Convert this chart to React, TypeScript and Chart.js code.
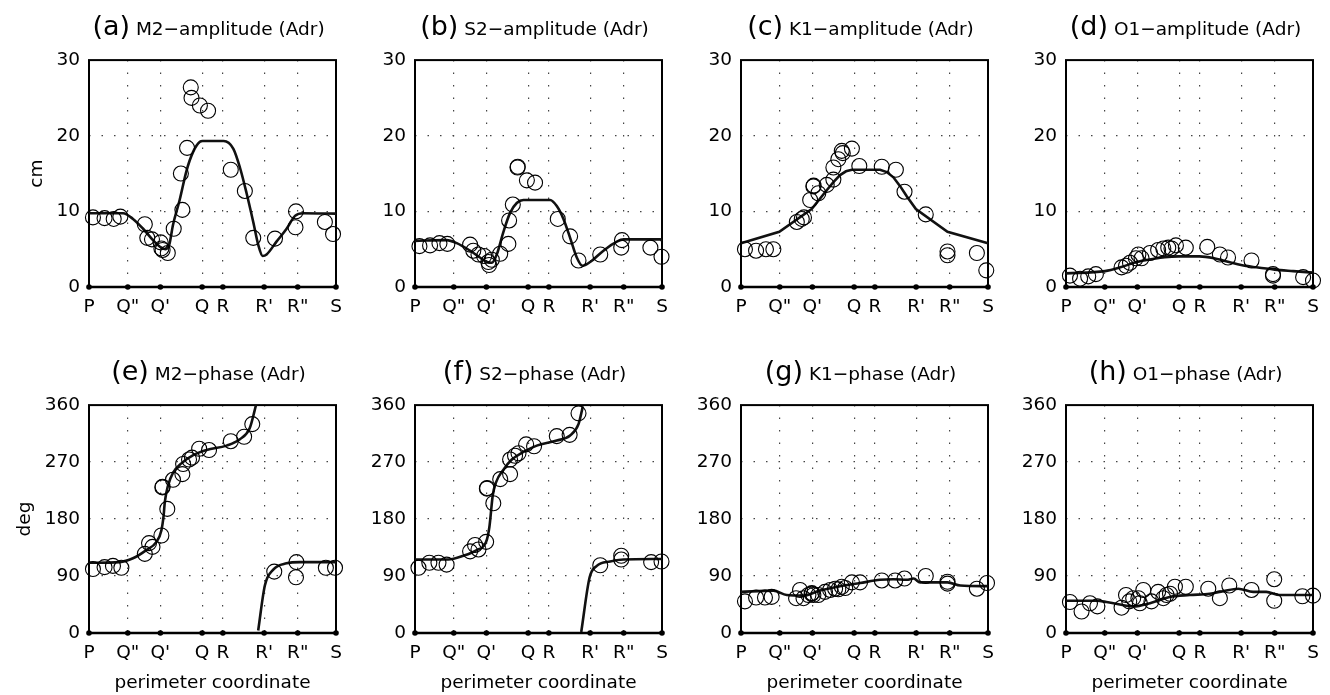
import React, { useEffect, useRef } from "react";
import { Chart, registerables } from "chart.js";
Chart.register(...registerables);

type P = [number, number];

// perimeter coordinate ticks (0..100 along the perimeter)
const X_TICKS = [0, 15.7, 28.9, 45.8, 54.2, 70.9, 84.5, 100];
const X_LABELS = ["P", 'Q"', "Q'", "Q", "R", "R'", 'R"', "S"];

// (a) M2 amplitude
const M2_AMP_OBS: P[] = [[1.6,9.2],[6.3,9.1],[10,9.0],[12.7,9.3],[22.6,8.3],[23.6,6.5],[25.5,6.3],[29.0,5.9],[29.3,5.1],[29.8,4.9],[31.9,4.5],[34.3,7.7],[37.8,10.2],[37.2,15.0],[39.7,18.4],[41.2,26.4],[41.5,25.0],[44.9,24.0],[48.2,23.3],[57.4,15.5],[63.1,12.7],[66.5,6.5],[75.3,6.4],[83.8,10.0],[83.6,7.9],[95.5,8.6],[98.8,7.0]];
const M2_AMP_FIT: P[] = [[0,9.76],[13.8,9.76],[17.8,9.0],[21.9,7.7],[25.9,6.2],[29.3,5.2],[31.0,5.0],[32.5,5.6],[34,8.2],[36.7,11.5],[39.5,15.4],[42.2,17.9],[44.9,19.2],[46,19.3],[54.5,19.3],[58.4,18.3],[61.1,15.8],[63.8,12.4],[66.5,8.6],[68.5,5.6],[70.3,4.1],[71.9,4.3],[75.9,6.0],[80,7.7],[83.4,9.4],[86.7,9.76],[100,9.7]];

// (b) S2 amplitude
const S2_AMP_OBS: P[] = [[1.8,5.4],[6.1,5.5],[9.9,5.8],[13.1,5.7],[22.3,5.6],[23.6,4.8],[25.7,4.3],[28.0,4.1],[29.7,3.3],[31.1,3.6],[30.0,2.9],[34.5,4.4],[37.8,5.7],[38.1,8.8],[39.6,10.9],[41.5,15.8],[41.6,15.9],[45.3,14.1],[48.6,13.8],[57.8,9.0],[62.8,6.7],[66.2,3.5],[75.0,4.3],[83.8,6.2],[83.5,5.2],[95.3,5.2],[99.8,4.0]];
const S2_AMP_FIT: P[] = [[0,6.1],[12.8,6.2],[16.9,5.8],[22.3,4.8],[26.3,3.9],[29.1,3.3],[31.1,3.2],[33.1,4.3],[35.8,7.3],[38.5,9.8],[41.2,11.1],[43.9,11.5],[54.7,11.5],[57.4,10.7],[60.1,9.0],[62.8,6.5],[65.5,3.9],[67.8,2.8],[70.9,3.3],[76.3,4.8],[81.7,6.0],[84.5,6.3],[99.3,6.3],[100,6.1]];

// (c) K1 amplitude
const K1_AMP_OBS: P[] = [[1.6,5.0],[6.1,4.8],[10.1,5.0],[13.1,5.0],[22.6,8.6],[24.6,9.0],[25.5,9.2],[28.0,11.5],[29.3,13.3],[29.4,13.4],[31.3,12.4],[34.7,13.5],[37.4,14.2],[37.4,15.8],[39.4,16.9],[40.8,18.0],[41.2,17.7],[44.9,18.3],[47.9,16.0],[57.0,15.9],[62.7,15.5],[66.2,12.6],[74.8,9.6],[83.6,4.7],[83.6,4.2],[95.5,4.5],[99.3,2.2]];
const K1_AMP_FIT: P[] = [[0,5.8],[15.5,7.3],[28.6,10.3],[34.7,12.8],[37.5,13.9],[40.1,14.8],[42.5,15.3],[44.9,15.5],[56.3,15.5],[59,15.2],[61.7,14.5],[64.5,13.3],[67.1,12.0],[70.8,10.3],[83.6,7.3],[100,5.8]];

// (d) O1 amplitude
const O1_AMP_OBS: P[] = [[1.6,1.5],[5.7,1.1],[9.0,1.4],[12.1,1.7],[22.5,2.6],[24.3,2.8],[25.9,3.2],[28.3,3.8],[29.3,4.3],[30.6,3.8],[34.0,4.5],[37.3,4.9],[39.4,5.1],[41.4,5.2],[42.7,5.1],[44.5,5.5],[48.5,5.2],[57.2,5.3],[62.3,4.3],[65.6,3.9],[75.1,3.5],[83.8,1.5],[83.8,1.7],[96.0,1.3],[100,0.85]];
const O1_AMP_FIT: P[] = [[0,1.8],[15.8,2.1],[22,2.6],[28.6,3.3],[35,3.7],[40,3.95],[45.6,4.05],[54,4.05],[60,3.8],[66,3.3],[70.9,2.9],[77,2.6],[84.5,2.3],[92,2.1],[100,1.9]];

// (e) M2 phase
const M2_PHA_OBS: P[] = [[1.6,101],[6.3,104],[9.7,106],[13.1,103],[22.6,125],[24.3,142],[25.7,136],[29.3,154],[31.7,196],[29.7,230],[29.8,231],[34.0,242],[37.8,251],[38.1,267],[40.5,274],[41.7,277],[44.6,291],[48.6,289],[57.4,303],[62.8,310],[66.1,330],[75.0,97],[84.0,112],[83.8,88],[95.9,103],[99.6,103]];
const M2_PHA_FIT1: P[] = [[0,111],[12.4,112],[17.8,118],[23.2,131],[27.3,144],[29.3,162],[30.2,185],[30.7,207],[32.0,233],[34.0,253],[37.4,268],[42.2,281],[47.6,289],[55.7,296],[61.1,306],[65.1,324],[67.1,352],[67.6,360]];
const M2_PHA_FIT2: P[] = [[68.5,4],[71.2,75],[74.6,100],[80,110],[85.4,112],[100,112]];

// (f) S2 phase
const S2_PHA_OBS: P[] = [[1.4,103],[5.8,111],[9.5,111],[12.8,108],[22.3,129],[24.3,139],[25.7,132],[28.8,144],[29.1,228],[29.2,229],[31.7,205],[34.5,243],[38.5,251],[38.5,274],[40.5,280],[41.9,284],[45.0,298],[48.2,295],[57.4,311],[62.6,313],[66.2,347],[75.0,107],[83.5,122],[83.5,116],[95.6,112],[99.8,113]];
const S2_PHA_FIT1: P[] = [[0,116],[13.5,116],[19.6,122],[25,131],[28.8,144],[30.1,167],[31.5,218],[32.8,238],[35.8,258],[39.2,274],[43.9,286],[49.3,296],[57.4,304],[62.8,312],[66.2,330],[67.6,352],[67.9,358]];
const S2_PHA_FIT2: P[] = [[67.3,1.5],[70.7,88],[73.6,106],[79,113],[84.4,116],[100,117]];

// (g) K1 phase
const K1_PHA_OBS: P[] = [[1.6,50],[6.1,56],[9.7,56],[12.4,57],[22.3,55],[23.9,68],[25.3,55],[27.3,60],[28.6,62],[28.7,63],[29.3,60],[31.3,60],[34.0,65],[36.1,68],[38.1,70],[39.4,69],[40.8,73],[42.2,71],[44.9,80],[48.2,80],[57.0,83],[62.4,83],[66.2,86],[74.8,90],[83.6,81],[83.6,78],[95.5,70],[99.6,79]];
const K1_PHA_FIT: P[] = [[0,65],[13.1,67],[18.5,60],[25.3,59],[32,67],[40.1,74],[48.2,79],[56.3,84],[61.7,85],[67.1,84],[69.9,86],[72.5,80],[83.6,80],[88.8,75],[100,74]];

// (h) O1 phase
const O1_PHA_OBS: P[] = [[1.6,49],[6.3,34],[9.7,47],[12.7,42],[22.5,40],[24.3,60],[25.6,50],[27.2,55],[29.3,55],[29.9,47],[31.3,68],[34.6,50],[37.3,65],[39.4,55],[40.7,60],[42.1,62],[44.1,73],[48.5,73],[57.6,70],[62.3,55],[66.1,75],[75.1,68],[84.3,85],[84.3,51],[95.7,58],[100,59]];
const O1_PHA_FIT: P[] = [[0,51],[12.4,51],[16.4,49],[21.8,45],[27.2,42],[34,47],[42,57],[50.1,60],[58.2,62],[63.6,66],[69.7,70],[75.8,65],[81.1,65],[86.5,60],[100,60]];

const AMP_MAX = 30, AMP_STEP = 10;
const PHA_MAX = 360, PHA_STEP = 90;

type PanelCfg = { tag: string; title: string; obs: P[]; fits: P[][]; phase: boolean; smooth: boolean };
const PANELS: PanelCfg[] = [
  { tag: "(a)", title: "M2\u2212amplitude (Adr)", obs: M2_AMP_OBS, fits: [M2_AMP_FIT], phase: false, smooth: true },
  { tag: "(b)", title: "S2\u2212amplitude (Adr)", obs: S2_AMP_OBS, fits: [S2_AMP_FIT], phase: false, smooth: true },
  { tag: "(c)", title: "K1\u2212amplitude (Adr)", obs: K1_AMP_OBS, fits: [K1_AMP_FIT], phase: false, smooth: false },
  { tag: "(d)", title: "O1\u2212amplitude (Adr)", obs: O1_AMP_OBS, fits: [O1_AMP_FIT], phase: false, smooth: true },
  { tag: "(e)", title: "M2\u2212phase (Adr)", obs: M2_PHA_OBS, fits: [M2_PHA_FIT1, M2_PHA_FIT2], phase: true, smooth: true },
  { tag: "(f)", title: "S2\u2212phase (Adr)", obs: S2_PHA_OBS, fits: [S2_PHA_FIT1, S2_PHA_FIT2], phase: true, smooth: true },
  { tag: "(g)", title: "K1\u2212phase (Adr)", obs: K1_PHA_OBS, fits: [K1_PHA_FIT], phase: true, smooth: true },
  { tag: "(h)", title: "O1\u2212phase (Adr)", obs: O1_PHA_OBS, fits: [O1_PHA_FIT], phase: true, smooth: true },
];

// layout
const FONT = "'DejaVu Sans', 'Liberation Sans', Arial, sans-serif";
const FS = 18.5;
const LEFTS = [89, 415, 741, 1066];
const TOPS = [52, 397];
const PLOT_W = 247;
const PLOT_H = [235, 236];
const Y_W = 80;
const PAD_T = 12;
const PAD_R = 16;
const X_H = [30, 61];
const TITLE_TOP = [11, 356];

const framePlugin = {
  id: "frame",
  beforeDatasetsDraw(chart: any) {
    const { ctx, chartArea } = chart;
    const { left, top, right, bottom } = chartArea;
    ctx.save();
    ctx.strokeStyle = "#000";
    ctx.lineWidth = 2;
    ctx.strokeRect(left, top, right - left, bottom - top);
    ctx.lineWidth = 2.6;
    ctx.beginPath();
    ctx.moveTo(left - 1, bottom);
    ctx.lineTo(right + 1, bottom);
    ctx.stroke();
    ctx.restore();
  },
};

const gridColor = (c: any) => {
  const s = c.scale;
  const v = c.tick ? c.tick.value : 0;
  return v <= s.min + 1e-6 || v >= s.max - 1e-6 ? "rgba(0,0,0,0)" : "#444";
};

function Panel({ cfg, idx }: { cfg: PanelCfg; idx: number }) {
  const ref = useRef<HTMLCanvasElement | null>(null);
  const col = idx % 4;
  const row = Math.floor(idx / 4);
  const w = Y_W + PLOT_W + PAD_R;
  const h = PAD_T + PLOT_H[row] + X_H[row];

  useEffect(() => {
    if (!ref.current) return;
    const datasets: any[] = [];
    datasets.push({
      data: cfg.obs.map(([x, y]) => ({ x, y })),
      showLine: false,
      pointStyle: "circle",
      pointRadius: 7.5,
      pointBorderWidth: 1.1,
      pointBorderColor: "#000",
      pointBackgroundColor: "rgba(0,0,0,0)",
      clip: false,
    });
    cfg.fits.forEach((f) => {
      datasets.push({
        data: f.map(([x, y]) => ({ x, y })),
        showLine: true,
        borderColor: "#111",
        borderWidth: 2.6,
        pointRadius: 0,
        tension: 0,
        cubicInterpolationMode: cfg.smooth ? "monotone" : "default",
        fill: false,
        clip: false,
      });
    });
    datasets.push({
      data: X_TICKS.map((x) => ({ x, y: 0 })),
      showLine: false,
      pointRadius: 2.8,
      pointBorderWidth: 0,
      pointBackgroundColor: "#000",
      clip: false,
    });

    const chart = new Chart(ref.current, {
      type: "line",
      data: { datasets },
      plugins: [framePlugin],
      options: {
        responsive: false,
        animation: false,
        events: [],
        layout: { padding: { top: PAD_T, right: PAD_R, bottom: 0, left: 0 } },
        plugins: { legend: { display: false }, tooltip: { enabled: false } },
        scales: {
          x: {
            type: "linear",
            min: 0,
            max: 100,
            afterBuildTicks: (s: any) => {
              s.ticks = X_TICKS.map((v) => ({ value: v }));
            },
            afterFit: (s: any) => {
              s.height = X_H[row];
            },
            ticks: {
              autoSkip: false,
              maxRotation: 0,
              padding: 9,
              color: "#000",
              font: { family: FONT, size: FS },
              callback: (_v: any, i: number) => X_LABELS[i],
            },
            grid: { drawTicks: false, color: gridColor, lineWidth: 1.2 },
            border: { display: false, dash: [1.5, 11] },
            title: {
              display: row === 1,
              text: "perimeter coordinate",
              color: "#000",
              font: { family: FONT, size: FS },
              padding: { top: 0, bottom: 0 },
            },
          },
          y: {
            type: "linear",
            min: 0,
            max: cfg.phase ? PHA_MAX : AMP_MAX,
            afterFit: (s: any) => {
              s.width = Y_W;
            },
            ticks: {
              stepSize: cfg.phase ? PHA_STEP : AMP_STEP,
              padding: 9,
              color: "#000",
              font: { family: FONT, size: FS },
            },
            grid: { drawTicks: false, color: gridColor, lineWidth: 1.2 },
            border: { display: false, dash: [1.5, 11] },
            title: {
              display: col === 0,
              text: cfg.phase ? "deg" : "cm",
              color: "#000",
              font: { family: FONT, size: FS },
              padding: { top: row === 0 ? 17 : 5, bottom: 0 },
            },
          },
        },
      } as any,
    });
    return () => chart.destroy();
  }, []);

  const L = LEFTS[col];
  const T = TOPS[row];
  return (
    <>
      <canvas
        ref={ref}
        width={w}
        height={h}
        style={{ position: "absolute", left: L - Y_W, top: T - PAD_T, width: w, height: h }}
      />
      <div
        style={{
          position: "absolute",
          left: L - 24,
          width: PLOT_W + 40,
          top: TITLE_TOP[row],
          textAlign: "center",
          whiteSpace: "nowrap",
          fontFamily: FONT,
          fontSize: 27,
          lineHeight: "30px",
          color: "#000",
        }}
      >
        {cfg.tag}
        <span style={{ fontSize: FS }}> {cfg.title}</span>
      </div>
    </>
  );
}

export default function App() {
  return (
    <div
      style={{
        position: "fixed",
        left: 0,
        top: 0,
        width: 1330,
        height: 695,
        background: "#fff",
        overflow: "hidden",
      }}
    >
      {PANELS.map((p, i) => (
        <Panel key={i} cfg={p} idx={i} />
      ))}
    </div>
  );
}
